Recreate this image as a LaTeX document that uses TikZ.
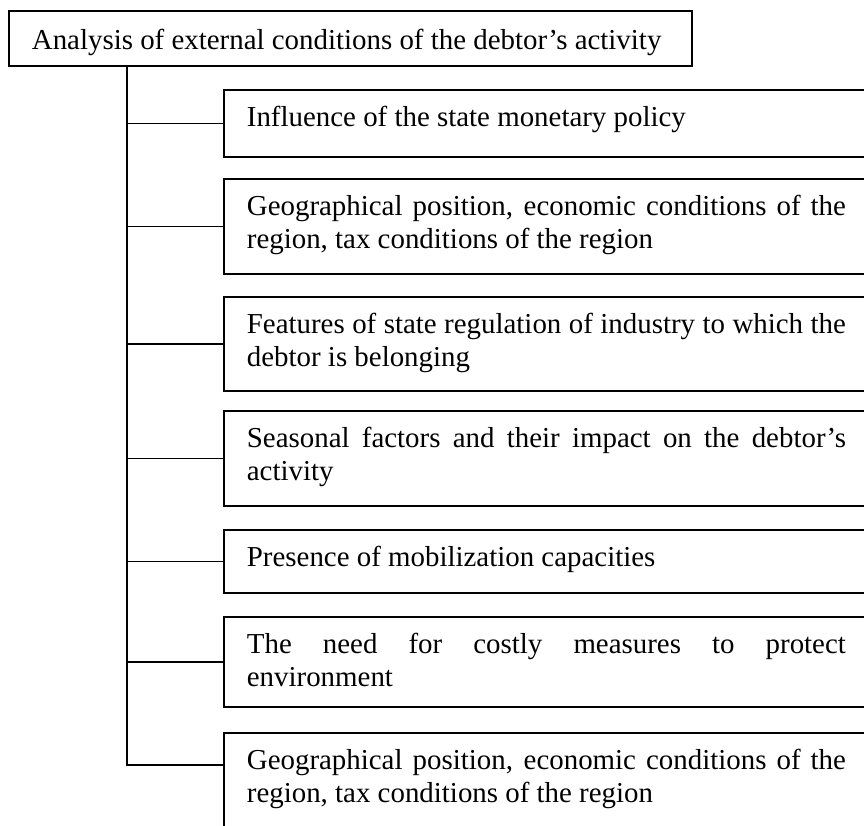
\documentclass[tikz,border=0pt]{standalone}
\usepackage{fontspec}
\setmainfont{Liberation Serif}
\begin{document}
\begin{tikzpicture}[x=1pt,y=1pt,line width=1.8pt,
  frame/.style={draw,inner sep=0pt,anchor=north west},
  childbox/.style={frame,minimum width=647pt},
  txt/.style={inner sep=0pt,anchor=north west,font=\fontsize{28.9}{33}\selectfont},
  ptxt/.style={txt,text width=599pt,align=justify},
  link/.style={draw}]
\useasboundingbox (0,0) rectangle (864,-825);
\hyphenpenalty=10000
% top box
\node[frame,minimum width=683pt,minimum height=55pt] (top) at (8,-10) {};
\node[txt] (ttop) at ([xshift=23pt,yshift=-15.9pt]top.north west) {\strut Analysis of external conditions of the debtor’s activity};
% child boxes
\node[childbox,minimum height=67pt] (b1) at (223,-89) {};
\node[childbox,minimum height=95pt] (b2) at (223,-178) {};
\node[childbox,minimum height=94pt] (b3) at (223,-296) {};
\node[childbox,minimum height=95pt] (b4) at (223,-410) {};
\node[childbox,minimum height=63pt] (b5) at (223,-529) {};
\node[childbox,minimum height=90pt] (b6) at (223,-616) {};
\node[childbox,minimum height=168pt] (b7) at (223,-732) {};
% texts
\node[ptxt] (t1) at ([xshift=23pt,yshift=-13.9pt]b1.north west) {\strut Influence of the state monetary policy};
\node[ptxt] (t2) at ([xshift=23pt,yshift=-13.9pt]b2.north west) {\strut Geographical position, economic conditions of the\linebreak region, tax conditions of the region};
\node[ptxt] (t3) at ([xshift=23pt,yshift=-13.9pt]b3.north west) {\strut Features of state regulation of industry to which the\linebreak debtor is belonging};
\node[ptxt] (t4) at ([xshift=23pt,yshift=-13.9pt]b4.north west) {\strut Seasonal factors and their impact on the debtor’s\linebreak activity};
\node[ptxt] (t5) at ([xshift=23pt,yshift=-13.9pt]b5.north west) {\strut Presence of mobilization capacities};
\node[ptxt] (t6) at ([xshift=23pt,yshift=-13.9pt]b6.north west) {\strut The need for costly measures to protect\linebreak environment};
\node[ptxt] (t7) at ([xshift=23pt,yshift=-13.9pt]b7.north west) {\strut Geographical position, economic conditions of the\linebreak region, tax conditions of the region};
% connectors
\coordinate (tk) at (127,-765);
\coordinate (b7p) at ([yshift=-33pt]b7.north west);
\draw[link] (top.south -| tk) |- (b7p);
\foreach \b in {b1,b2,b3,b4,b5,b6}
  \draw[link] (tk |- \b.west) -- (\b.west);
\end{tikzpicture}
\end{document}
